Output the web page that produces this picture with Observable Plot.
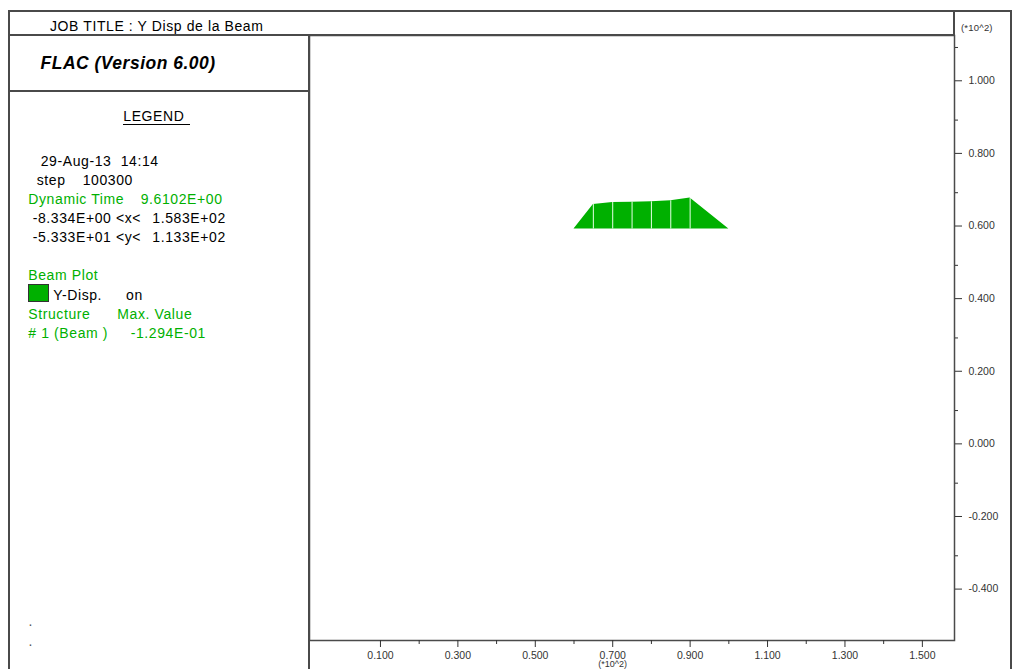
<!DOCTYPE html>
<html>
<head>
<meta charset="utf-8">
<script src="https://cdn.jsdelivr.net/npm/d3@7"></script>
<script src="https://cdn.jsdelivr.net/npm/@observablehq/plot@0.6"></script>
<style>
  html, body { margin: 0; padding: 0; background: #fff; }
  #wrap { position: relative; width: 1012px; height: 669px; overflow: hidden; background: #fff;
          font-family: "Liberation Sans", Arial, sans-serif; }
  #wrap svg { position: absolute; left: 0; top: 0; }
  .ln { position: absolute; background: #4a4a4a; pointer-events: none; }
  .t { position: absolute; white-space: pre; font-size: 14px; line-height: 16px; letter-spacing: 0.6px; color: #000; }
  .g { color: #00b000; }
</style>
</head>
<body>
<div id="wrap"></div>
<script>
// ---- data ----
const nodeX = [60, 65, 70, 75, 80, 85, 90, 100];                 // beam node x positions
const dispY = [0, -0.1025, -0.1109, -0.1125, -0.1139, -0.1180, -0.1294, 0]; // Y-displacement at nodes
const beamY = 60;            // beam elevation
const plotScale = 65.8;      // drawing magnification of the displacement
const xDomain = [-8.334, 158.3];
const yDomain = [-53.33, 113.3];
const xTicks = [10, 30, 50, 70, 90, 110, 130, 150];
const xMinor = [20, 40, 60, 80, 100, 120, 140];
const yTicks = [-40, -20, 0, 20, 40, 60, 80, 100];
const yMinor = [-30, -10, 10, 30, 50, 70, 90, 110];

const beam = nodeX.map((x, i) => ({x, disp: dispY[i]}));
const interior = beam.slice(1, -1);
const topY = d => beamY - d.disp * plotScale;
const fmt = d => (d / 100).toFixed(3);

const chart = Plot.plot({
  width: 1012,
  height: 669,
  marginLeft: 309,
  marginRight: 58,
  marginTop: 35,
  marginBottom: 29,
  x: {domain: xDomain},
  y: {domain: yDomain},
  style: {fontFamily: "Liberation Sans, Arial, sans-serif", color: "#333", background: "transparent", overflow: "visible"},
  marks: [
    Plot.areaY(beam, {x: "x", y1: beamY, y2: topY, fill: "#00b000"}),
    Plot.ruleX(interior, {x: "x", y1: beamY, y2: topY, stroke: "#e6ffe6", strokeWidth: 1}),
    Plot.frame({stroke: "#4a4a4a", strokeWidth: 1.5}),
    Plot.axisY(yTicks, {anchor: "right", tickSize: 7, tickPadding: 7, tickFormat: fmt, fontSize: 10.5, dy: -3, label: null, stroke: "#333", fill: "#333"}),
    Plot.axisY(yMinor, {anchor: "right", tickSize: 3, tickFormat: () => "", label: null, stroke: "#333"}),
    Plot.axisX(xTicks, {anchor: "bottom", tickSize: 7, tickPadding: 4, tickFormat: fmt, fontSize: 10.5, label: null, stroke: "#333", fill: "#333"}),
    Plot.axisX(xMinor, {anchor: "bottom", tickSize: 4, tickFormat: () => "", label: null, stroke: "#333"}),
    Plot.text(["(*10^2)"], {x: 70, frameAnchor: "bottom", dy: 26.5, fontSize: 9, fill: "#333"})
  ]
});

const wrap = document.getElementById("wrap");
wrap.appendChild(chart);

function line(l, t, w, h) {
  const d = document.createElement("div");
  d.className = "ln";
  Object.assign(d.style, {left: l + "px", top: t + "px", width: w + "px", height: h + "px"});
  wrap.appendChild(d);
}
// frame lines around the panels
line(8, 10, 2, 660);        // outer left
line(8, 10, 1004, 1.5);     // outer top
line(1010, 10, 1.5, 660);   // outer right
line(8, 34.3, 946, 1.5);    // under title row
line(953.3, 10, 1.5, 26);   // right column divider above plot
line(308.3, 35, 1.8, 640);  // left panel divider
line(8, 90.3, 301, 1.5);    // under FLAC box

function txt(s, x, cy, opts = {}) {
  const d = document.createElement("div");
  d.className = "t" + (opts.green ? " g" : "");
  d.textContent = s;
  const lh = opts.lh || 16;
  d.style.left = x + "px";
  d.style.top = (cy - lh / 2) + "px";
  if (opts.size) d.style.fontSize = opts.size + "px";
  if (opts.lh) d.style.lineHeight = opts.lh + "px";
  if (opts.weight) d.style.fontWeight = opts.weight;
  if (opts.italic) d.style.fontStyle = "italic";
  if (opts.ls != null) d.style.letterSpacing = opts.ls + "px";
  if (opts.color) d.style.color = opts.color;
  wrap.appendChild(d);
  return d;
}

txt("JOB TITLE : Y Disp de la Beam", 50, 25.5);
txt("FLAC (Version 6.00)", 40.5, 62.5, {size: 17.5, lh: 20, weight: "bold", italic: true, ls: 0.5});
const lg = txt("LEGEND", 123.3, 116.5);
lg.style.borderBottom = "1px solid #000";
lg.style.paddingRight = "6px";
lg.style.lineHeight = "15px";

txt("29-Aug-13", 40.7, 160.7);
txt("14:14", 120.7, 160.7);
txt("step", 36.7, 179.5);
txt("100300", 82.7, 179.5);
txt("Dynamic Time", 28.3, 199.3, {green: true});
txt("9.6102E+00", 140.7, 199.3, {green: true});
txt("-8.334E+00 <x<", 32.7, 218.3);
txt("1.583E+02", 152.3, 218.3);
txt("-5.333E+01 <y<", 32.7, 237.3);
txt("1.133E+02", 152.3, 237.3);
txt("Beam Plot", 28.3, 275, {green: true});
const box = document.createElement("div");
Object.assign(box.style, {position: "absolute", left: "28px", top: "284px", width: "19px", height: "16px",
  background: "#00b000", border: "1px solid #333"});
wrap.appendChild(box);
txt("Y-Disp.", 53.3, 295);
txt("on", 126, 295);
txt("Structure", 28.3, 314, {green: true});
txt("Max. Value", 117.3, 314, {green: true});
txt("# 1 (Beam )", 28.3, 332.5, {green: true});
txt("-1.294E-01", 130.7, 332.5, {green: true});

txt(".", 28.5, 621, {color: "#555"});
txt(".", 28.5, 641, {color: "#555"});

txt("(*10^2)", 961, 28, {size: 9.5, lh: 12, ls: 0.2, color: "#333"});
</script>
</body>
</html>
